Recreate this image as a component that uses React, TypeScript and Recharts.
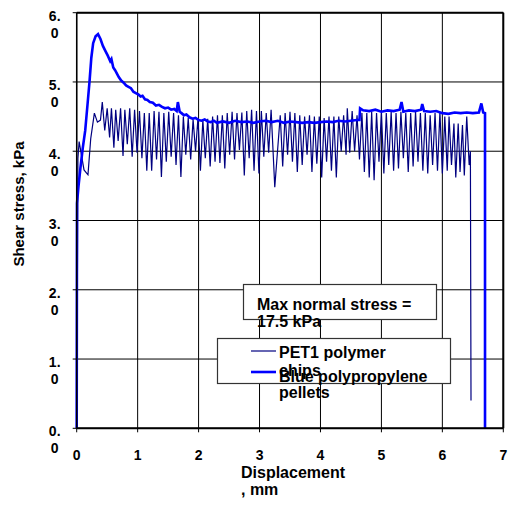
import React from 'react';
import { LineChart, Line, XAxis, YAxis, CartesianGrid, ReferenceLine } from 'recharts';

// ---- Data ----
const xTicks = [0, 1, 2, 3, 4, 5, 6, 7];
const yTicks = [0, 1, 2, 3, 4, 5, 6];

const seriesNames = ['PET1 polymer chips', 'Blue polypropylene pellets'];
const annotationLines = ['Max normal stress =', '17.5 kPa'];
const xTitleLines = ['Displacement', ', mm'];
const yTitle = 'Shear stress, kPa';

// PET1 polymer chips (displacement mm, shear stress kPa)
const petDisp = [
  0, 0.02, 0.04, 0.12, 0.185, 0.23, 0.29, 0.34, 0.39,
  0.42, 0.46, 0.50, 0.54, 0.57, 0.61, 0.64, 0.68, 0.72, 0.76, 0.79, 0.83, 0.87, 0.91, 0.95, 0.99, 1.03, 1.07, 1.11, 1.15,
  1.19, 1.23, 1.27, 1.31, 1.35, 1.39, 1.43, 1.47, 1.51, 1.55, 1.59, 1.63, 1.67, 1.71, 1.75, 1.79, 1.83, 1.87, 1.91, 1.95, 1.99, 2.03, 2.07, 2.11, 2.15, 2.19, 2.23, 2.27, 2.31, 2.35, 2.39,
  2.43, 2.47, 2.51, 2.55, 2.59, 2.63, 2.67, 2.71, 2.75, 2.79, 2.83, 2.87, 2.91, 2.95, 2.99, 3.03, 3.07, 3.11, 3.15, 3.19, 3.25, 3.34, 3.38, 3.42, 3.46, 3.50, 3.54, 3.58, 3.62,
  3.66, 3.70, 3.74, 3.78, 3.82, 3.86, 3.90, 3.94, 3.98, 4.02, 4.06, 4.10, 4.14, 4.18, 4.22, 4.26, 4.30, 4.34, 4.38, 4.42, 4.44, 4.48, 4.52, 4.56, 4.60, 4.64, 4.68, 4.72, 4.76, 4.80, 4.84,
  4.88, 4.92, 4.96, 5.00, 5.04, 5.08, 5.12, 5.16, 5.20, 5.24, 5.28, 5.32, 5.36, 5.40, 5.44, 5.48, 5.52, 5.56, 5.60, 5.64, 5.68, 5.72, 5.76, 5.80, 5.84, 5.88, 5.92, 5.96, 6.00,
  6.04, 6.08, 6.11, 6.15, 6.19, 6.22, 6.26, 6.29, 6.33, 6.36, 6.40, 6.44, 6.46, 6.47,
];
const petStress = [
  0, 3.9, 4.14, 3.73, 3.66, 4.18, 4.55, 4.42, 4.45,
  4.71, 4.30, 4.62, 4.20, 4.62, 4.05, 4.60, 4.15, 4.62, 3.93, 4.60, 4.10, 4.62, 3.92, 4.60, 3.98, 4.58, 3.90, 4.55, 3.72,
  4.55, 3.72, 4.58, 3.88, 4.57, 3.63, 4.55, 3.85, 4.57, 3.92, 4.55, 3.80, 4.52, 3.63, 4.50, 3.95, 4.48, 3.88, 4.46, 4.00, 4.48, 3.72, 4.45, 3.90, 4.47, 3.78, 4.50, 3.85, 4.52, 3.83, 4.52,
  3.75, 4.55, 3.95, 4.57, 3.88, 4.55, 4.02, 4.56, 3.65, 4.58, 3.90, 4.60, 3.72, 4.58, 3.68, 4.58, 3.92, 4.55, 3.98, 4.60, 3.48, 4.52, 3.78, 4.55, 3.95, 4.57, 3.85, 4.55, 3.70,
  4.52, 3.80, 4.50, 3.95, 4.52, 3.70, 4.50, 3.82, 4.50, 3.62, 4.48, 3.85, 4.50, 3.72, 4.50, 3.62, 4.50, 4.00, 4.52, 3.95, 4.62, 3.98, 4.58, 4.00, 4.52, 3.88, 4.55, 3.70, 4.55, 3.62, 4.57,
  3.58, 4.55, 3.85, 4.57, 3.68, 4.55, 3.80, 4.57, 3.72, 4.55, 3.75, 4.57, 3.90, 4.55, 3.70, 4.55, 3.78, 4.57, 3.85, 4.55, 3.72, 4.55, 3.68, 4.52, 3.80, 4.55, 3.72, 4.57, 3.68,
  4.50, 3.72, 4.50, 3.80, 4.40, 3.62, 4.40, 3.70, 4.38, 3.65, 4.50, 3.80, 4.00, 0.40,
];

// Blue polypropylene pellets
const ppDisp = [
  0, 0.005, 0.03, 0.06, 0.10, 0.14, 0.18, 0.21, 0.24, 0.27, 0.31, 0.35, 0.39, 0.43, 0.47, 0.51, 0.55, 0.57, 0.60, 0.63,
  0.66, 0.69, 0.73, 0.77, 0.81, 0.85, 0.89, 0.93, 0.97, 1.01, 1.05, 1.08, 1.12, 1.16, 1.20, 1.25, 1.30, 1.35, 1.40, 1.45,
  1.50, 1.55, 1.60, 1.64, 1.66, 1.69, 1.72, 1.76, 1.80, 1.85, 1.90, 1.95, 2.00, 2.05, 2.10, 2.15, 2.20, 2.25, 2.30, 2.40,
  2.50, 2.60, 2.70, 2.80, 2.90, 3.00, 3.10, 3.20, 3.30, 3.40, 3.50, 3.60, 3.70, 3.80, 3.90, 4.00, 4.10, 4.20, 4.30, 4.40,
  4.50, 4.60, 4.64, 4.65, 4.70, 4.80, 4.90, 5.00, 5.10, 5.20, 5.30, 5.33, 5.36, 5.45, 5.55, 5.65, 5.67, 5.70, 5.80, 5.90,
  6.00, 6.10, 6.20, 6.30, 6.40, 6.50, 6.60, 6.64, 6.67, 6.70, 6.70,
];
const ppStress = [
  0, 3.25, 3.5, 3.75, 4.05, 4.3, 4.7, 5.0, 5.35, 5.56, 5.66, 5.69, 5.62, 5.52, 5.45, 5.38, 5.30, 5.33, 5.21, 5.17,
  5.12, 5.07, 5.02, 4.99, 4.95, 4.93, 4.91, 4.86, 4.84, 4.82, 4.79, 4.80, 4.75, 4.74, 4.71, 4.70, 4.66, 4.67, 4.64, 4.62,
  4.63, 4.60, 4.61, 4.58, 4.71, 4.57, 4.55, 4.52, 4.53, 4.49, 4.47, 4.48, 4.45, 4.44, 4.46, 4.43, 4.42, 4.44, 4.41, 4.43,
  4.41, 4.44, 4.42, 4.43, 4.41, 4.43, 4.44, 4.42, 4.44, 4.41, 4.43, 4.42, 4.41, 4.42, 4.41, 4.42, 4.43, 4.42, 4.44, 4.43,
  4.44, 4.45, 4.45, 4.62, 4.59, 4.58, 4.60, 4.57, 4.59, 4.58, 4.60, 4.71, 4.57, 4.59, 4.58, 4.60, 4.68, 4.58, 4.57, 4.58,
  4.55, 4.54, 4.56, 4.55, 4.56, 4.55, 4.56, 4.69, 4.56, 4.55, 0,
];

const petData = petDisp.map((x, i) => ({ x, y: petStress[i] }));
const ppData = ppDisp.map((x, i) => ({ x, y: ppStress[i] }));

const FONT = '"Liberation Sans", Arial, sans-serif';
const PET_COLOR = '#000080';
const PP_COLOR = '#0000FF';

const YTick = (props: any) => {
  const { x, y, payload } = props;
  const v = Number(payload.value);
  const cx = x - 16;
  return (
    <text textAnchor="middle" fontFamily={FONT} fontWeight="bold" fontSize={14} fill="#000">
      <tspan x={cx} y={y + 8}>{`${v}.`}</tspan>
      <tspan x={cx} y={y + 25}>0</tspan>
    </text>
  );
};

const XTick = (props: any) => {
  const { x, y, payload } = props;
  return (
    <text x={x} y={y + 26} textAnchor="middle" fontFamily={FONT} fontWeight="bold" fontSize={14} fill="#000">
      {payload.value}
    </text>
  );
};

export default function App() {
  return (
    <div style={{ position: 'absolute', left: 0, top: 0, width: 509, height: 505, background: '#fff' }}>
      <LineChart
        width={509}
        height={505}
        margin={{ top: 12.7, right: 5.7, left: 0, bottom: 46.7 }}
      >
        <CartesianGrid stroke="#000" strokeWidth={1} />
        <XAxis
          type="number"
          dataKey="x"
          domain={[0, 7]}
          ticks={xTicks}
          interval={0}
          height={30}
          axisLine={{ stroke: '#000', strokeWidth: 2 }}
          tickLine={{ stroke: '#000' }}
          tickSize={4}
          tick={<XTick />}
        />
        <YAxis
          type="number"
          dataKey="y"
          domain={[0, 6]}
          ticks={yTicks}
          interval={0}
          width={76.7}
          axisLine={{ stroke: '#000', strokeWidth: 1.5 }}
          tickLine={{ stroke: '#000' }}
          tickSize={4}
          tick={<YTick />}
        />
        <ReferenceLine y={6} stroke="#000" strokeWidth={2} />
        <ReferenceLine x={7} stroke="#000" strokeWidth={2} />
        <Line
          data={petData}
          dataKey="y"
          type="linear"
          stroke={PET_COLOR}
          strokeWidth={1.2}
          dot={false}
          isAnimationActive={false}
          name={seriesNames[0]}
        />
        <Line
          data={ppData}
          dataKey="y"
          type="linear"
          stroke={PP_COLOR}
          strokeWidth={2.6}
          dot={false}
          isAnimationActive={false}
          name={seriesNames[1]}
        />
      </LineChart>
      <svg
        width={509}
        height={505}
        style={{ position: 'absolute', left: 0, top: 0, pointerEvents: 'none' }}
        fontFamily={FONT}
        fontWeight="bold"
      >
        {/* Y axis title */}
        <text transform="translate(23.5,204) rotate(-90)" textAnchor="middle" fontSize={15} fill="#000">
          {yTitle}
        </text>
        {/* X axis title */}
        <text x={241} y={478} fontSize={16} fill="#000">{xTitleLines[0]}</text>
        <text x={241} y={495} fontSize={16} fill="#000">{xTitleLines[1]}</text>
        {/* Annotation */}
        <rect x={243.5} y={284.5} width={193} height={35} fill="#fff" stroke="#333" strokeWidth={1.2} />
        <text x={257} y={309.5} fontSize={16} fill="#000">{annotationLines[0]}</text>
        <text x={257} y={327} fontSize={16} fill="#000">{annotationLines[1]}</text>
        {/* Legend */}
        <rect x={217.5} y={338.5} width={233} height={45} fill="#fff" stroke="#333" strokeWidth={1.2} />
        <line x1={251} x2={276} y1={351} y2={351} stroke={PET_COLOR} strokeWidth={1.2} />
        <text x={279} y={357.5} fontSize={16} fill="#000">PET1 polymer</text>
        <text x={279} y={376} fontSize={16} fill="#000">chips</text>
        <line x1={251} x2={276} y1={372} y2={372} stroke={PP_COLOR} strokeWidth={2.6} />
        <text x={279} y={381.5} fontSize={16} fill="#000">Blue polypropylene</text>
        <text x={279} y={398} fontSize={16} fill="#000">pellets</text>
      </svg>
    </div>
  );
}
